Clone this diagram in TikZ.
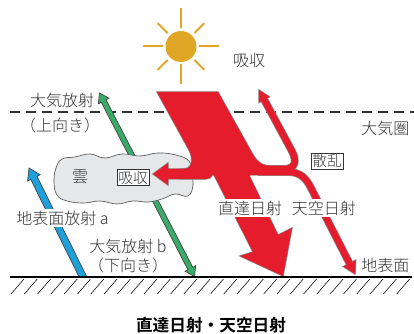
\documentclass[tikz,border=0pt]{standalone}
\usepackage{fontspec}
\setmainfont{Noto Sans CJK JP}[UprightFont={* Light}, BoldFont={* Bold}]
\usepackage{tikz}

\definecolor{sunorange}{RGB}{224,166,38}
\definecolor{rayred}{RGB}{228,28,44}
\definecolor{raygreen}{RGB}{58,170,105}
\definecolor{rayblue}{RGB}{30,160,218}
\definecolor{cloudgray}{RGB}{230,231,232}

% red radiation pieces, drawn twice (outline, then fill)
\def\sunband{(157,92) -- (218,92) -- (252,153) .. controls (257,162) and (262,166) .. (272,166)
  -- (272,175) -- (250,175) -- (245,186) -- (222,186) -- (213,174)
  .. controls (211,178) and (209,179) .. (204,179) -- (180,179) -- (180,169) -- (183,169)
  .. controls (192,169) and (194,160) .. (189,150) -- cycle}
\def\cloudarrow{(205,169) -- (168,169) -- (168,163) -- (153,174) -- (168,185) -- (168,179) -- (205,179) -- cycle}
\def\directarrow{(213,173) -- (253,252) -- (240,256) -- (283,276) -- (292,228) -- (278,235) -- (248,173) -- cycle}
\def\uphead{(259,90) -- (269.49,96.84) -- (258.93,102.52) -- cycle}
\def\downhead{(355,274) -- (343.26,266.56) -- (355.70,260.12) -- cycle}
\def\upbranch{(264.21,99.68) -- (291.7,150.7) .. controls (297,160.5) and (296,169) .. (284,169) -- (258,169)}
\def\downbranch{(258,172) -- (288,172) .. controls (300,172) and (306,178) .. (311,188) -- (349.48,263.34)}

\begin{document}
\begin{tikzpicture}[x=0.75pt, y=-0.75pt,
    font=\fontsize{12}{14}\selectfont, text=black!80,
    boxlbl/.style={draw=black!80, fill=white, line width=0.5pt, inner sep=1pt,
      font=\fontsize{11}{13}\selectfont},
    redline/.style={draw=black!45, line width=1pt},
    longwave/.style={draw=black!75, line width=0.5pt}]
    \useasboundingbox (0,0) rectangle (414,334);

    % top of the atmosphere
    \draw[black!80, line width=1.1pt, dash pattern=on 7.5pt off 4.5pt] (10,112) -- (414,112);

    % sun
    \coordinate (sun) at (181,46.5);
    \fill[sunorange] (sun) circle [radius=15.5];
    \foreach \a in {0,90,180,270}
        \draw[sunorange, line width=1.5pt, shift={(sun)}] (\a:18) -- (\a:38);
    \foreach \a in {45,135,225,315}
        \draw[sunorange, line width=1.5pt, shift={(sun)}] (\a:19) -- (\a:33);

    % surface radiation a
    \filldraw[longwave, fill=rayblue] (79.1,277) -- (30.74,179.41) -- (27.61,180.97) -- (29,168)
        -- (40.15,174.75) -- (37.02,176.31) -- (86.9,277) -- cycle;
    % atmospheric radiation, up and down
    \filldraw[longwave, fill=raygreen] (99.5,93) -- (108.97,98.23) -- (106.04,99.75) -- (192.76,267.27)
        -- (195.69,265.75) -- (194.5,276.5) -- (185.03,271.27) -- (187.96,269.75) -- (101.24,102.23)
        -- (98.31,103.75) -- cycle;

    % cloud
    \draw[fill=cloudgray, draw=black!65, line width=0.5pt] plot[smooth cycle, tension=0.7] coordinates {
        (56,168) (62,159) (75,157) (90,154) (105,158) (122,154) (140,156) (158,153) (176,155)
        (189,161) (191,172) (193,185) (188,196) (175,194) (162,199) (148,202) (133,201)
        (117,204) (100,201) (84,203) (67,201) (57,195) (54,182)};

    % solar radiation: outlines first
    \path[redline, fill=rayred] \sunband;
    \path[redline, fill=rayred] \cloudarrow;
    \path[redline, fill=rayred] \directarrow;
    \path[redline, fill=rayred] \uphead;
    \path[redline, fill=rayred] \downhead;
    \draw[black!45, line width=5.9pt] \upbranch;
    \draw[black!45, line width=5.9pt] \downbranch;
    % then the red on top
    \fill[rayred] \sunband;
    \fill[rayred] \cloudarrow;
    \fill[rayred] \directarrow;
    \fill[rayred] \uphead;
    \fill[rayred] \downhead;
    \draw[rayred, line width=4.9pt] \upbranch;
    \draw[rayred, line width=4.9pt] \downbranch;

    % labels
    \node (absorb) at (249,60) {吸収};
    \node (upper) at (62,100) {大気放射};
    \node (upperdir) at (60,125) {（上向き）};
    \node[anchor=east] (sphere) at (414,128) {大気圏};
    \node[boxlbl] (scatter) at (327,161) {散乱};
    \node (cloud) at (80,177) {雲};
    \node[boxlbl] (cloudabs) at (133,177.5) {吸収};
    \node[fill=white, inner sep=1pt] (surfrad) at (62.5,218) {地表面放射 a};
    \node (lower) at (128,246) {大気放射 b};
    \node (lowerdir) at (128,265) {（下向き）};
    \node[fill=white, inner sep=1pt] (solar) at (287,208) {直達日射\hspace{0.6em}天空日射};
    \node[anchor=east] (surface) at (414,265) {地表面};

    % ground
    \draw[line width=1.5pt] (10,277) -- (412,277);
    \foreach \x in {24,37.3,...,412}
        \draw[line width=0.4pt] (\x,279) -- ++(-13,15);

    \node[font=\fontsize{12.5}{15}\selectfont\bfseries, text=black] (title) at (211,325) {直達日射・天空日射};
\end{tikzpicture}
\end{document}
